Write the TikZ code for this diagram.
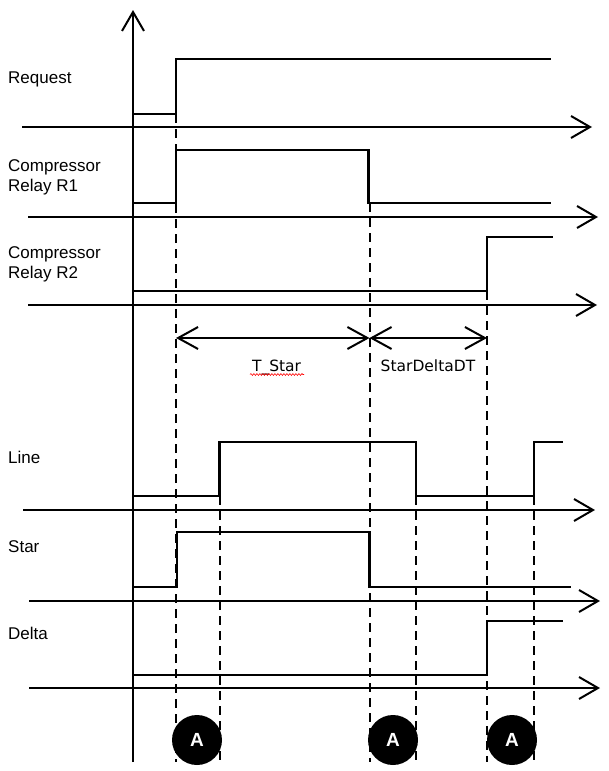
\documentclass[tikz,border=0pt]{standalone}
\usepackage{fontspec}
\setmainfont{Liberation Sans}
\newfontfamily\verdfont{DejaVu Sans}
\usetikzlibrary{arrows.meta,decorations.pathmorphing}
\begin{document}
\begin{tikzpicture}[x=1pt,y=-1pt,
  axisline/.style={line width=2pt,-{Straight Barb[length=19pt,width=22pt,line width=2pt]}},
  sig/.style={line width=2.9pt,line join=miter},
  guide/.style={line width=2pt,dash pattern=on 9pt off 6pt},
  dim/.style={line width=2pt,{Straight Barb[length=20pt,width=22pt,line width=2pt]}-{Straight Barb[length=20pt,width=22pt,line width=2pt]}},
  lbl/.style={anchor=base west,font=\fontsize{17}{20}\selectfont,inner sep=0pt},
  dimlbl/.style={anchor=base,font=\verdfont\fontsize{15.5}{18}\selectfont,inner sep=0pt},
  marker/.style={circle,fill=black,minimum size=50pt,inner sep=0pt,text=white,font=\bfseries\fontsize{19}{20}\selectfont}]
\useasboundingbox (0,0) rectangle (608,771);
% dashed guides
\draw[guide] (176,114) -- (176,762);
\draw[guide] (219.5,496) -- (219.5,762);
\draw[guide] (369.5,203) -- (369.5,762);
\draw[guide] (416,496) -- (416,762);
\draw[guide] (487,291) -- (487,762);
\draw[guide] (534,496) -- (534,762);
% vertical axis
\draw[axisline] (133,762) -- (133,10);
% horizontal axes
\draw[axisline] (22,127) -- (592,127);
\draw[axisline] (28,217) -- (598,217);
\draw[axisline] (28,305) -- (597,305);
\draw[axisline] (23,510) -- (595,510);
\draw[axisline] (29,601) -- (600,601);
\draw[axisline] (29,688) -- (600,688);
% signals
\draw[sig] (133,114) -- (176,114) -- (176,59) -- (551,59);
\draw[sig] (133,203) -- (176,203) -- (176,150) -- (368.5,150) -- (368.5,203) -- (551,203);
\draw[sig] (133,291) -- (487,291) -- (487,237) -- (553,237);
\draw[sig] (133,496) -- (219.5,496) -- (219.5,442) -- (416,442) -- (416,496) -- (534,496) -- (534,442) -- (563,442);
\draw[sig] (133,587) -- (177,587) -- (177,532) -- (369.5,532) -- (369.5,587) -- (571,587);
\draw[sig] (133,675) -- (487,675) -- (487,621) -- (563,621);
% labels
\node[lbl] (lreq) at (8,83.5) {Request};
\node[lbl] (lr1a) at (8,171.7) {Compressor};
\node[lbl] (lr1b) at (8,191.7) {Relay R1};
\node[lbl] (lr2a) at (8,258.3) {Compressor};
\node[lbl] (lr2b) at (8,278.3) {Relay R2};
\node[lbl] (lline) at (8,463.3) {Line};
\node[lbl] (lstar) at (8,552.7) {Star};
\node[lbl] (ldelta) at (8,639.3) {Delta};
% dimension arrows
\coordinate (dA) at (176,338);
\coordinate (dC) at (369.5,338);
\coordinate (dE) at (487,338);
\draw[dim] (dA) -- (dC);
\draw[dim] (dC) -- (dE);
\node[dimlbl] (ltstar) at (276.6,371.5) {T\_Star};
\node[dimlbl] (lsddt) at (428,371.5) {StarDeltaDT};
\draw[red,line width=0.6pt,decorate,decoration={snake,amplitude=0.9pt,segment length=3pt}] (250,374.5) -- (304,374.5);
% markers
\node[marker] (m1) at (197,740) {A};
\node[marker] (m2) at (393,740) {A};
\node[marker] (m3) at (512,740) {A};
\end{tikzpicture}
\end{document}
